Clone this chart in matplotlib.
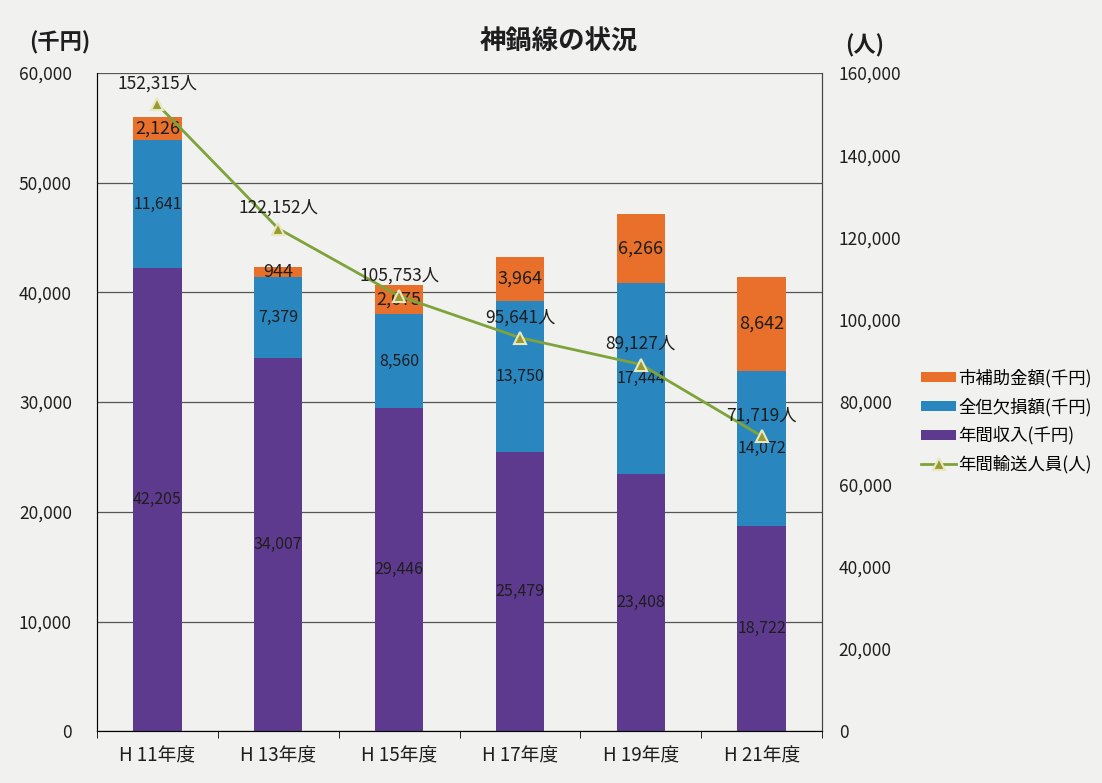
import matplotlib
matplotlib.use("Agg")
import matplotlib.pyplot as plt
import numpy as np

plt.rcParams['font.family'] = ['Noto Sans CJK JP', 'DejaVu Sans']

# data
years = ["H 11年度", "H 13年度", "H 15年度", "H 17年度", "H 19年度", "H 21年度"]
income = [42205, 34007, 29446, 25479, 23408, 18722]      # 年間収入(千円)
deficit = [11641, 7379, 8560, 13750, 17444, 14072]      # 全但欠損額(千円)
subsidy = [2126, 944, 2675, 3964, 6266, 8642]           # 市補助金額(千円)
riders = [152315, 122152, 105753, 95641, 89127, 71719]  # 年間輸送人員(人)

bg = "#f1f1ef"
c_purple = "#5e3a8e"
c_blue = "#2a86bf"
c_orange = "#e8702a"
c_green = "#7ea33a"
txt = "#1e1e1e"

fig = plt.figure(figsize=(11.02, 7.83), dpi=100, facecolor=bg)
ax = fig.add_axes([0.088, 0.066, 0.658, 0.841], facecolor=bg)

x = np.arange(len(years))
w = 0.4
b1 = ax.bar(x, income, w, color=c_purple, zorder=2, label="年間収入(千円)")
b2 = ax.bar(x, deficit, w, bottom=income, color=c_blue, zorder=2, label="全但欠損額(千円)")
bottom2 = [a + b for a, b in zip(income, deficit)]
b3 = ax.bar(x, subsidy, w, bottom=bottom2, color=c_orange, zorder=2, label="市補助金額(千円)")

# value labels inside the segments
for i in range(len(years)):
    ax.text(x[i], income[i] / 2, f"{income[i]:,}", ha="center", va="center", fontsize=11.5, color=txt, zorder=5)
    ax.text(x[i], income[i] + deficit[i] / 2, f"{deficit[i]:,}", ha="center", va="center", fontsize=11.5, color=txt, zorder=5)
    ax.text(x[i], bottom2[i] + subsidy[i] / 2, f"{subsidy[i]:,}", ha="center", va="center", fontsize=13, color=txt, zorder=5)

ax.set_ylim(0, 60000)
ax.set_xlim(-0.5, len(years) - 0.5)
ax.set_yticks(range(0, 60001, 10000))
ax.set_yticklabels([f"{v:,}" for v in range(0, 60001, 10000)], fontsize=12.5, color=txt)
ax.set_xticks(x)
ax.set_xticklabels(years, fontsize=13.5, color=txt)
ax.set_xticks(np.arange(-0.5, len(years), 1), minor=True)
ax.tick_params(axis="x", which="major", length=0, pad=10)
ax.tick_params(axis="x", which="minor", length=5)
ax.tick_params(axis="y", length=0, pad=18)
ax.grid(axis="y", color="#555555", linewidth=0.9, zorder=0)
ax.spines["top"].set_visible(False)
ax.spines["left"].set_color("#444444")
ax.spines["bottom"].set_color("#444444")
ax.spines["right"].set_color("#444444")

# riders on the right axis
ax2 = ax.twinx()
ln, = ax2.plot(x, riders, color=c_green, linewidth=2, marker="^", markersize=9,
               markerfacecolor="#9a9a30", markeredgecolor="#e8e8c0", markeredgewidth=1.5,
               zorder=4, label="年間輸送人員(人)")
ax2.set_ylim(0, 160000)
ax2.set_yticks(range(0, 160001, 20000))
ax2.set_yticklabels([f"{v:,}" for v in range(0, 160001, 20000)], fontsize=12.5, color=txt)
ax2.tick_params(axis="y", length=0, pad=12)
ax2.spines["top"].set_visible(False)
ax2.spines["right"].set_color("#444444")
for i in range(len(years)):
    ax2.text(x[i], riders[i] + 2800, f"{riders[i]:,}人", ha="center", va="bottom", fontsize=12.5, color=txt, zorder=5)

fig.text(0.507, 0.946, "神鍋線の状況", ha="center", va="center", fontsize=19, weight="bold", color=txt)
fig.text(0.054, 0.946, "(千円)", ha="center", va="center", fontsize=16, weight="bold", color=txt)
fig.text(0.785, 0.942, "(人)", ha="center", va="center", fontsize=16, weight="bold", color=txt)

handles = [b3, b2, b1, ln]
labels = [h.get_label() for h in handles]
fig.legend(handles, labels, loc="center left", bbox_to_anchor=(0.822, 0.462), frameon=False,
           fontsize=12.5, handlelength=2.0, handleheight=0.5, handletextpad=0.1, labelspacing=0.6)

fig.savefig("out.png", dpi=100, facecolor=bg)
